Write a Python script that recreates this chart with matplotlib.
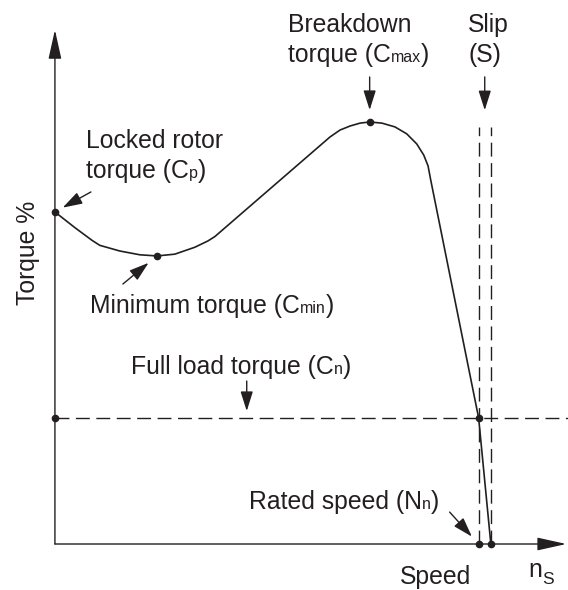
import matplotlib
matplotlib.use("Agg")
import matplotlib.pyplot as plt

plt.rcParams['font.family'] = ['Liberation Sans', 'DejaVu Sans']

# Torque-speed characteristic of an induction motor
# speed in % of synchronous speed, torque in % of full-load torque
speed_pct = [0, 4.6, 8.5, 10.3, 14.9, 19.5, 23.4, 27.5, 32.1, 35.1, 36.7,
             63.1, 65.4, 67.7, 70.0, 72.2, 75.0, 78.0, 80.7, 83.0, 84.6,
             85.6, 86.2, 97.2, 100]
torque_pct = [263.5, 251, 241, 237, 232.5, 229.5, 228.6, 230, 235.5, 240.5, 244,
              323, 328.5, 331.7, 334, 334.9, 334, 331, 325.5, 317.5, 308.7,
              300, 289, 100, 0]

locked_rotor = (0, 263.5)      # Cp
minimum_torque = (23.4, 228.6)  # Cmin
breakdown = (72.2, 334.9)       # Cmax
full_load_torque = 100          # Cn
rated_speed = 97.2              # Nn
sync_speed = 100                # ns

W, H = 568, 590
INK = '#231f20'

fig = plt.figure(figsize=(W / 100, H / 100), dpi=100)
ax = fig.add_axes([0, 0, 1, 1])
ax.set_xlim(-12.6, 117.7)
ax.set_ylim(-36.5, 431.7)
ax.axis('off')

# coordinate axes with arrow heads
axis_arrow = dict(arrowstyle='-|>,head_length=1.8,head_width=0.4',
                  mutation_scale=10, lw=1.0, color=INK, shrinkA=0, shrinkB=0)
ax.annotate('', xy=(0, 408), xytext=(0, 0), arrowprops=axis_arrow)
ax.annotate('', xy=(117.3, 0), xytext=(0, 0), arrowprops=axis_arrow)

# characteristic curve
ax.plot(speed_pct, torque_pct, color=INK, lw=1.2, solid_joinstyle='round')

# full-load torque and slip guide lines
dash = (0, (10, 4.7))
ax.plot([0, 117.7], [full_load_torque, full_load_torque], color=INK, lw=1.0, ls=dash)
slip_top = 331
ax.plot([rated_speed, rated_speed], [0, slip_top], color=INK, lw=1.0, ls=dash)
ax.plot([sync_speed, sync_speed], [0, slip_top], color=INK, lw=1.0, ls=dash)

# key points
pts_x = [locked_rotor[0], minimum_torque[0], breakdown[0], 0, rated_speed,
         rated_speed, sync_speed]
pts_y = [locked_rotor[1], minimum_torque[1], breakdown[1], full_load_torque,
         full_load_torque, 0, 0]
ax.plot(pts_x, pts_y, 'o', ms=4.5, color=INK, zorder=5)

# pointer arrows
ptr = dict(arrowstyle='-|>,head_length=1.2,head_width=0.38', mutation_scale=10,
           lw=1.0, color=INK, shrinkA=0)


def pointer(xy, offset, gap):
    ax.annotate('', xy=xy, xytext=offset, textcoords='offset points',
                arrowprops=dict(ptr, shrinkB=gap))


pointer(breakdown, (0, 32.4), 8.6)
pointer(((rated_speed + sync_speed) / 2, slip_top), (0, 36), 12)
pointer(locked_rotor, (25.9, 14.4), 6.4)
pointer(minimum_torque, (-24.5, -20.2), 7.8)
pointer((44.0, full_load_torque), (0, 26.6), 5.0)
pointer((rated_speed, 0), (-20.9, 23.0), 7.2)

# labels
renderer = fig.canvas.get_renderer()
BIG, SMALL = 17.8, 11.5


def label(px, py, parts):
    x = px
    for s, size in parts:
        t = fig.text(x / W, 1 - py / H, s, fontsize=size, ha='left',
                     va='baseline', color=INK)
        x += t.get_window_extent(renderer).width
    return x


label(288, 32, [('Breakdown', BIG)])
label(288, 62, [('torque (C', BIG), ('max', SMALL), (')', BIG)])
label(468, 32, [('Slip', BIG)])
label(468, 62, [('(S)', BIG)])
label(86, 148, [('Locked rotor', BIG)])
label(86, 178, [('torque (C', BIG), ('p', SMALL), (')', BIG)])
label(90, 313, [('Minimum torque (C', BIG), ('min', SMALL), (')', BIG)])
label(131, 374, [('Full load torque (C', BIG), ('n', SMALL), (')', BIG)])
label(249, 509, [('Rated speed (N', BIG), ('n', SMALL), (')', BIG)])
label(400, 584, [('Speed', BIG)])
n_end = label(528, 577, [('n', BIG)])
label(n_end + 0.5, 584, [('S', SMALL + 1)])
fig.text(28 / W, 1 - 253 / H, 'Torque %', fontsize=BIG, rotation=90,
         ha='center', va='center', color=INK)

fig.savefig('out.png', dpi=100)
